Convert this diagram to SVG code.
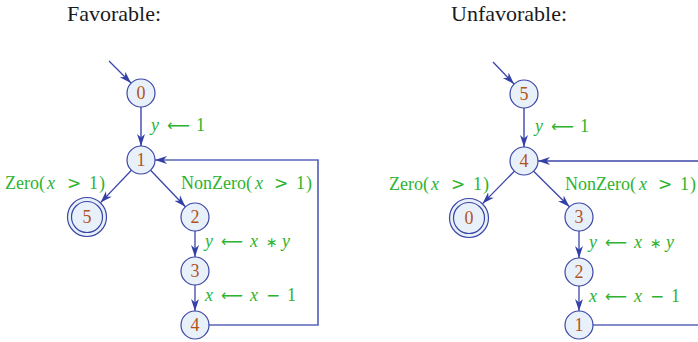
<svg xmlns="http://www.w3.org/2000/svg" width="698" height="342" viewBox="0 0 698 342">
<defs>
<style>
.title{font-family:"Liberation Serif","DejaVu Serif",serif;font-size:22px;fill:#1a1a1a}
.node circle{fill:#e8f1f9;stroke:#3b46a6;stroke-width:1.2}
.node text{font-family:"Liberation Serif","DejaVu Serif",serif;font-size:18px;fill:#b3541b;text-anchor:middle}
.edge{fill:none;stroke:#3b46a8;stroke-width:1.3}
.soft{fill:none;stroke:#5c66bb;stroke-width:1.7}
.lbl{font-family:"Liberation Serif","DejaVu Serif",serif;font-size:18px;fill:#2eb32e}
.it{font-style:italic}
.sym{font-family:"DejaVu Sans",sans-serif;font-size:17px}
.arr{font-family:"DejaVu Sans",sans-serif;font-size:16px}
.ast{font-family:"DejaVu Sans",sans-serif;font-size:14px}
</style>
<marker id="ah" markerWidth="13" markerHeight="10" refX="12" refY="5" orient="auto" markerUnits="userSpaceOnUse">
<path d="M0,1 L12,5 L0,9 L3.5,5 Z" fill="#3340a6"/>
</marker>
</defs>

<text class="title" x="67" y="21">Favorable:</text>
<text class="title" x="451" y="21">Unfavorable:</text>

<!-- Left graph -->
<g id="left-connectors">
<path class="edge" d="M109,61 L131,83" marker-end="url(#ah)"/>
<path class="soft" d="M141,107 L141,146" marker-end="url(#ah)"/>
<path class="edge" d="M131.4,170.2 L100.6,202.6" marker-end="url(#ah)"/>
<path class="edge" d="M150.6,170.2 L185.4,206.8" marker-end="url(#ah)"/>
<path class="edge" d="M195,231 L195,257" marker-end="url(#ah)"/>
<path class="edge" d="M195,285 L195,311" marker-end="url(#ah)"/>
<path class="soft" d="M209,325 L318,325 L318,160 L155,160" marker-end="url(#ah)"/>
<text class="lbl" y="131"><tspan class="it" x="151">y</tspan><tspan class="arr" x="167" textLength="23" lengthAdjust="spacingAndGlyphs">⟵</tspan><tspan x="196">1</tspan></text>
<text class="lbl" y="189"><tspan x="5">Zero(</tspan><tspan class="it" x="47">x</tspan><tspan class="sym" x="67">&gt;</tspan><tspan x="89">1</tspan><tspan x="99">)</tspan></text>
<text class="lbl" y="189"><tspan x="181">NonZero(</tspan><tspan class="it" x="255">x</tspan><tspan class="sym" x="274">&gt;</tspan><tspan x="296">1</tspan><tspan x="306">)</tspan></text>
<text class="lbl" y="247"><tspan class="it" x="205">y</tspan><tspan class="arr" x="221" textLength="22" lengthAdjust="spacingAndGlyphs">⟵</tspan><tspan class="it" x="250">x</tspan><tspan class="ast" x="266">∗</tspan><tspan class="it" x="282">y</tspan></text>
<text class="lbl" y="301"><tspan class="it" x="205">x</tspan><tspan class="arr" x="221" textLength="22" lengthAdjust="spacingAndGlyphs">⟵</tspan><tspan class="it" x="250">x</tspan><tspan class="sym" x="266">−</tspan><tspan x="287">1</tspan></text>
</g>
<g id="L0" class="node"><circle cx="141" cy="93" r="14"/><text x="141" y="99">0</text></g>
<g id="L1" class="node"><circle cx="141" cy="160" r="14"/><text x="141" y="166">1</text></g>
<g id="L5" class="node"><circle cx="87" cy="217" r="19.5"/><circle cx="87" cy="217" r="15.5"/><text x="87" y="223">5</text></g>
<g id="L2" class="node"><circle cx="195" cy="217" r="14"/><text x="195" y="223">2</text></g>
<g id="L3" class="node"><circle cx="195" cy="271" r="14"/><text x="195" y="277">3</text></g>
<g id="L4" class="node"><circle cx="195" cy="325" r="14"/><text x="195" y="331">4</text></g>

<!-- Right graph -->
<g id="right-connectors">
<path class="edge" d="M493,62 L514,84" marker-end="url(#ah)"/>
<path class="soft" d="M524,108 L524,147" marker-end="url(#ah)"/>
<path class="edge" d="M514.4,171.2 L482.6,203.6" marker-end="url(#ah)"/>
<path class="edge" d="M533.6,171.2 L569.4,206.8" marker-end="url(#ah)"/>
<path class="edge" d="M579,231 L579,258" marker-end="url(#ah)"/>
<path class="edge" d="M579,286 L579,311" marker-end="url(#ah)"/>
<path class="soft" d="M593,325 L702,325"/>
<path class="edge" d="M702,161 L538,161" marker-end="url(#ah)"/>
<text class="lbl" y="132"><tspan class="it" x="535">y</tspan><tspan class="arr" x="551" textLength="23" lengthAdjust="spacingAndGlyphs">⟵</tspan><tspan x="580">1</tspan></text>
<text class="lbl" y="190"><tspan x="389">Zero(</tspan><tspan class="it" x="431">x</tspan><tspan class="sym" x="451">&gt;</tspan><tspan x="473">1</tspan><tspan x="483">)</tspan></text>
<text class="lbl" y="190"><tspan x="565">NonZero(</tspan><tspan class="it" x="639">x</tspan><tspan class="sym" x="658">&gt;</tspan><tspan x="680">1</tspan><tspan x="690">)</tspan></text>
<text class="lbl" y="248"><tspan class="it" x="589">y</tspan><tspan class="arr" x="605" textLength="22" lengthAdjust="spacingAndGlyphs">⟵</tspan><tspan class="it" x="634">x</tspan><tspan class="ast" x="650">∗</tspan><tspan class="it" x="666">y</tspan></text>
<text class="lbl" y="302"><tspan class="it" x="589">x</tspan><tspan class="arr" x="605" textLength="22" lengthAdjust="spacingAndGlyphs">⟵</tspan><tspan class="it" x="634">x</tspan><tspan class="sym" x="650">−</tspan><tspan x="671">1</tspan></text>
</g>
<g id="R5" class="node"><circle cx="524" cy="94" r="14"/><text x="524" y="100">5</text></g>
<g id="R4" class="node"><circle cx="524" cy="161" r="14"/><text x="524" y="167">4</text></g>
<g id="R0" class="node"><circle cx="469" cy="218" r="19.5"/><circle cx="469" cy="218" r="15.5"/><text x="469" y="224">0</text></g>
<g id="R3" class="node"><circle cx="579" cy="217" r="14"/><text x="579" y="223">3</text></g>
<g id="R2" class="node"><circle cx="579" cy="272" r="14"/><text x="579" y="278">2</text></g>
<g id="R1" class="node"><circle cx="579" cy="325" r="14"/><text x="579" y="331">1</text></g>
</svg>
